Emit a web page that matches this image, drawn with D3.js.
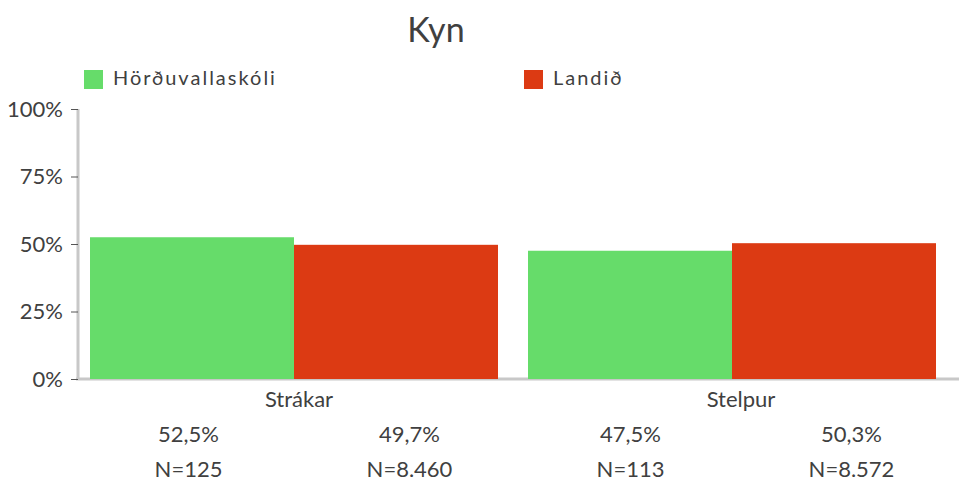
<!DOCTYPE html>
<html>
<head>
<meta charset="utf-8">
<script src="https://cdn.jsdelivr.net/npm/d3@7"></script>
<style>
  body { margin: 0; background: #fff; }
  text { font-family: Lato, "Open Sans", sans-serif; font-weight: 400; fill: #404040; }
  .axis path, .axis line { stroke: #c8c8c8; }
</style>
</head>
<body>
<div id="chart"></div>
<script>
// Kyn - grouped bars, school vs. whole country

var categories = ["Strákar", "Stelpur"];
var seriesNames = ["Hörðuvallaskóli", "Landið"];
var seriesColors = ["#66dc6a", "#dc3a13"];
var schoolValues = [52.5, 47.5];
var countryValues = [49.7, 50.3];
var schoolN = ["125", "113"];
var countryN = ["8.460", "8.572"];
var yTicks = [0, 25, 50, 75, 100];

var width = 959;
var height = 481;

var rows = [];
categories.forEach(function(c, i) {
    rows.push({ cat: c, series: seriesNames[0], value: schoolValues[i], n: schoolN[i] });
    rows.push({ cat: c, series: seriesNames[1], value: countryValues[i], n: countryN[i] });
});

var svg = d3
    .select("#chart")
    .append("svg")
    .attr("width", width)
    .attr("height", height);

var x0 = d3.scaleBand()
    .domain(categories)
    .range([78, 948])
    .paddingInner(0.0685)
    .paddingOuter(0.0274);

var x1 = d3.scaleBand()
    .domain(seriesNames)
    .range([0, x0.bandwidth()]);

var y = d3.scaleLinear()
    .domain([0, 100])
    .range([379, 109]);

var color = d3.scaleOrdinal().domain(seriesNames).range(seriesColors);

// title
svg.append("text")
    .attr("x", 436)
    .attr("y", 42)
    .attr("text-anchor", "middle")
    .style("font-size", "34px")
    .text("Kyn");

// legend
var legX = d3.scaleBand().domain(seriesNames).range([84, 964]);
var leg = svg.selectAll(".leg")
    .data(seriesNames)
    .enter()
    .append("g")
    .attr("class", "leg")
    .attr("transform", function(d) { return "translate(" + legX(d) + ",70)"; });
leg.append("rect")
    .attr("width", 19)
    .attr("height", 19)
    .attr("fill", function(d) { return color(d); });
leg.append("text")
    .attr("x", 29)
    .attr("y", 15)
    .style("font-size", "20px")
    .style("letter-spacing", "2px")
    .text(function(d) { return d; });

// axes
svg.append("line")
    .attr("class", "axis")
    .attr("x1", 76)
    .attr("x2", width)
    .attr("y1", y(0))
    .attr("y2", y(0))
    .style("stroke", "#c8c8c8")
    .style("stroke-width", 3);

var yAxis = svg.append("g")
    .attr("class", "axis")
    .attr("transform", "translate(78,0)")
    .call(d3.axisLeft(y)
        .tickValues(yTicks)
        .tickSize(7)
        .tickPadding(8)
        .tickFormat(function(d) { return d + "%"; }));
yAxis.select(".domain")
    .attr("d", "M0," + y(0) + "V" + y(100))
    .style("stroke-width", 3);
yAxis.selectAll(".tick line").style("stroke", "#555").style("stroke-width", 1);
yAxis.selectAll(".tick text")
    .style("font-size", "22px")
    .style("fill", "#404040")
    .style("font-family", "Lato, sans-serif");

// bars
svg.selectAll(".bar")
    .data(rows)
    .enter()
    .append("rect")
    .attr("class", "bar")
    .attr("x", function(d) { return x0(d.cat) + x1(d.series); })
    .attr("width", x1.bandwidth())
    .attr("y", function(d) { return y(d.value); })
    .attr("height", function(d) { return y(0) - y(d.value); })
    .attr("fill", function(d) { return color(d.series); });

// table under the chart
var catCol = d3.scaleBand().domain(categories).range([78, 962]);
svg.selectAll(".catLabel")
    .data(categories)
    .enter()
    .append("text")
    .attr("class", "catLabel")
    .attr("x", function(d) { return catCol(d) + catCol.bandwidth() / 2; })
    .attr("y", 407)
    .attr("text-anchor", "middle")
    .style("font-size", "22px")
    .text(function(d) { return d; });

var cellCol = d3.scaleBand().domain(d3.range(rows.length)).range([78, 962]);
svg.selectAll(".valLabel")
    .data(rows)
    .enter()
    .append("text")
    .attr("class", "valLabel")
    .attr("x", function(d, i) { return cellCol(i) + cellCol.bandwidth() / 2; })
    .attr("y", 442)
    .attr("text-anchor", "middle")
    .style("font-size", "22px")
    .text(function(d) { return String(d.value.toFixed(1)).replace(".", ",") + "%"; });

svg.selectAll(".nLabel")
    .data(rows)
    .enter()
    .append("text")
    .attr("class", "nLabel")
    .attr("x", function(d, i) { return cellCol(i) + cellCol.bandwidth() / 2; })
    .attr("y", 477)
    .attr("text-anchor", "middle")
    .style("font-size", "22px")
    .text(function(d) { return "N=" + d.n; });
</script>
</body>
</html>
